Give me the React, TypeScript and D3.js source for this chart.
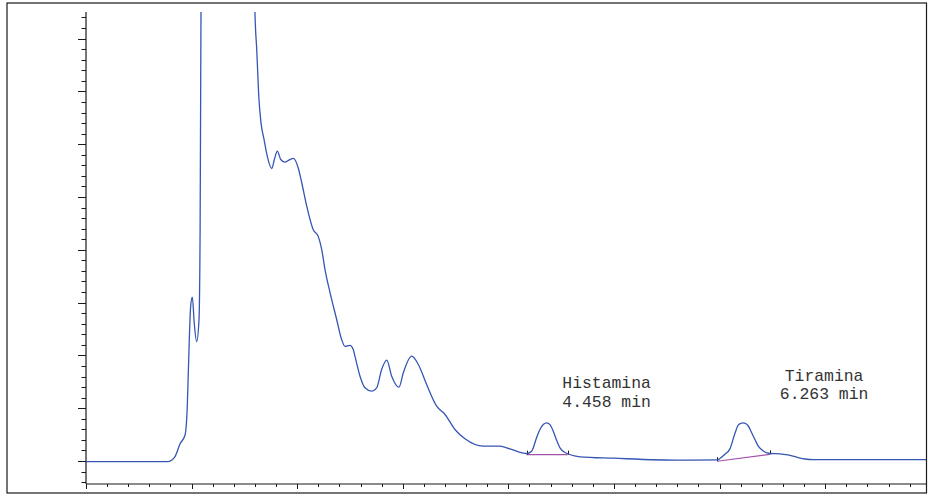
import React, { useEffect } from "react";
import * as d3 from "d3";

// Chromatogram trace (x in axis units, 1 major tick = 1; y in signal units, 1 major tick = 10)
const traceX = [
  0, 0.777, 0.814, 0.843, 0.89, 0.938, 0.959, 0.978, 0.991, 1.007, 1.025, 1.048, 1.07, 1.08, 1.089,
  1.103, 1.2, 1.32, 1.45, 1.553, 1.6, 1.617, 1.638, 1.657, 1.686, 1.717, 1.759, 1.785, 1.812, 1.844,
  1.884, 1.922, 1.963, 2.01, 2.043, 2.09, 2.152, 2.2, 2.232, 2.263, 2.311, 2.374, 2.421, 2.453, 2.5,
  2.531, 2.547, 2.595, 2.642, 2.705, 2.753, 2.8, 2.848, 2.895, 2.964, 3.005, 3.084, 3.147, 3.226,
  3.321, 3.4, 3.494, 3.589, 3.763, 3.92, 4.015, 4.173, 4.22, 4.267, 4.299, 4.333, 4.363, 4.394, 4.425,
  4.457, 4.489, 4.536, 4.678, 4.993, 5.625, 5.977, 6.0, 6.048, 6.098, 6.145, 6.174, 6.198, 6.224,
  6.25, 6.269, 6.304, 6.335, 6.367, 6.42, 6.477, 6.572, 6.648, 6.73, 6.809, 6.888, 7.955,
];
const traceY = [
  -0.12, -0.1, 0.19, 0.83, 3.22, 4.92, 10.23, 22.92, 29.24, 31.02, 26.14, 22.6, 26.7, 41.86, 85.0,
  300, 420, 460, 400, 300, 85.1, 77.9, 68.5, 64.1, 60.9, 57.7, 55.4, 57.2, 58.7, 57.1,
  56.6, 57.0, 57.3, 55.5, 52.7, 48.3, 43.8, 42.5, 40.1, 36.3, 31.9, 26.8, 23.0, 21.7, 21.9,
  21.1, 19.85, 16.06, 13.86, 13.22, 13.86, 17.33, 19.09, 16.06, 13.98, 16.7, 19.85, 18.28, 14.49,
  10.38, 8.81, 5.97, 4.2, 2.8, 2.8, 2.31, 1.42, 1.86, 4.4, 5.97, 6.95, 7.23, 6.9, 5.64,
  3.93, 2.5, 1.6, 0.8, 0.53, 0.15, 0.2, 0.42, 1.23, 2.3, 5.2, 6.72, 7.1, 7.23,
  7.05, 6.72, 5.34, 4.07, 2.8, 1.8, 1.42, 1.36, 1.14, 0.72, 0.38, 0.25, 0.25,
];

// Integration baselines: [startX, startY, endX, endY]
const peakBaseStartX = [4.173, 5.977];
const peakBaseStartY = [1.2, -0.05];
const peakBaseEndX = [4.561, 6.477];
const peakBaseEndY = [1.2, 1.25];

// Peak labels
const peakNames = ["Histamina", "Tiramina"];
const peakTimes = ["4.458 min", "6.263 min"];
const labelX = [4.93, 6.99];
const labelY = [13.8, 15.2];

const xDomain = [0, 7.955];
const yDomain = [-4.356, 85.04];
const xMajor = d3.range(0, 8, 1);
const xMinor = d3.range(0, 7.95, 0.2);
const yMajor = d3.range(0, 81, 10);
const yMinor = d3.range(-4, 85, 2);

export default function App() {
  useEffect(() => {
    document.body.style.margin = "0";
  }, []);
  const W = 932;
  const H = 501;
  const x = d3.scaleLinear().domain(xDomain).range([86, 926]);
  const y = d3.scaleLinear().domain(yDomain).range([484, 12]);
  const pts: [number, number][] = traceX.map((v, i) => [v, traceY[i]]);
  const line = d3
    .line<[number, number]>()
    .x((d) => x(d[0]))
    .y((d) => y(d[1]))
    .curve(d3.curveMonotoneX);
  const ink = "#1a1a1a";
  return (
    <svg width={W} height={H} style={{ position: "absolute", left: 0, top: 0, background: "#fff" }}>
      <defs>
        <clipPath id="plot">
          <rect x={86} y={12} width={840} height={472} />
        </clipPath>
      </defs>
      <rect x={7} y={3} width={919.5} height={490} fill="none" stroke={ink} strokeWidth={1.2} />
      {/* y axis */}
      <line x1={86} x2={86} y1={12} y2={484} stroke={ink} strokeWidth={1.2} />
      {yMinor.map((v) => (
        <line key={"ym" + v} x1={81.5} x2={86} y1={Math.round(y(v)) + 0.5} y2={Math.round(y(v)) + 0.5} stroke={ink} strokeWidth={1} />
      ))}
      {yMajor.map((v) => (
        <line key={"yM" + v} x1={78} x2={86} y1={Math.round(y(v)) + 0.5} y2={Math.round(y(v)) + 0.5} stroke={ink} strokeWidth={1} />
      ))}
      {/* x axis */}
      <line x1={86} x2={926} y1={484} y2={484} stroke={ink} strokeWidth={1.2} />
      {xMinor.map((v, i) => (
        <line key={"xm" + i} x1={Math.round(x(v)) + 0.5} x2={Math.round(x(v)) + 0.5} y1={484} y2={487} stroke={ink} strokeWidth={1} />
      ))}
      {xMajor.map((v) => (
        <line key={"xM" + v} x1={Math.round(x(v)) + 0.5} x2={Math.round(x(v)) + 0.5} y1={484} y2={489} stroke={ink} strokeWidth={1} />
      ))}
      {/* integration baselines */}
      {peakBaseStartX.map((sx, i) => (
        <g key={"b" + i}>
          <line x1={x(sx)} y1={y(peakBaseStartY[i])} x2={x(peakBaseEndX[i])} y2={y(peakBaseEndY[i])} stroke="#a452a8" strokeWidth={1.2} />
          <line x1={Math.round(x(sx)) + 0.5} x2={Math.round(x(sx)) + 0.5} y1={y(peakBaseStartY[i]) - 4} y2={y(peakBaseStartY[i])} stroke={ink} strokeWidth={1} />
          <line x1={Math.round(x(peakBaseEndX[i])) + 0.5} x2={Math.round(x(peakBaseEndX[i])) + 0.5} y1={y(peakBaseEndY[i]) - 4} y2={y(peakBaseEndY[i])} stroke={ink} strokeWidth={1} />
        </g>
      ))}
      <g clipPath="url(#plot)">
        <path d={line(pts) || ""} fill="none" stroke="#3556b4" strokeWidth={1.3} />
      </g>
      {peakNames.map((n, i) => (
        <text
          key={"l" + i}
          x={x(labelX[i])}
          y={y(labelY[i])}
          textAnchor="middle"
          fontFamily="'Liberation Mono', 'Courier New', monospace"
          fontSize={16.4}
          fill="#333"
        >
          <tspan x={x(labelX[i])}>{n}</tspan>
          <tspan x={x(labelX[i])} dy={18.6}>{peakTimes[i]}</tspan>
        </text>
      ))}
    </svg>
  );
}
